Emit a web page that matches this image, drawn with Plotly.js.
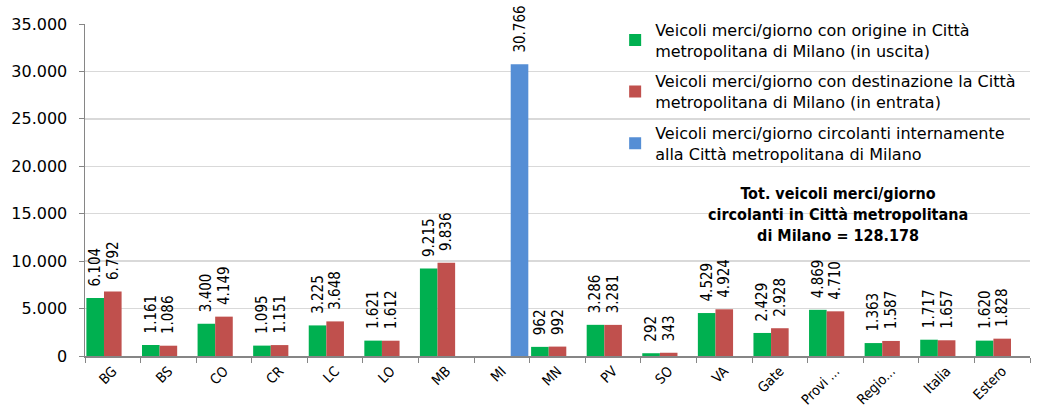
<!DOCTYPE html>
<html>
<head>
<meta charset="utf-8">
<script src="https://cdn.plot.ly/plotly-3.0.1.min.js"></script>
<style>html,body{margin:0;padding:0;background:#fff;}#chart{width:1042px;height:408px;}</style>
</head>
<body>
<div id="chart"></div>
<script>
const categories = ["BG","BS","CO","CR","LC","LO","MB","MI","MN","PV","SO","VA","Gate","Provi ...","Regio...","Italia","Estero"];
const uscita = [6104,1161,3400,1095,3225,1621,9215,null,962,3286,292,4529,2429,4869,1363,1717,1620];
const entrata = [6792,1086,4149,1151,3648,1612,9836,null,992,3281,343,4924,2928,4710,1587,1657,1828];
const interni = [null,null,null,null,null,null,null,30766,null,null,null,null,null,null,null,null,null];
const seriesNames = [
  "Veicoli merci/giorno con origine in Città<br>metropolitana di Milano (in uscita)",
  "Veicoli merci/giorno con destinazione la Città<br>metropolitana di Milano (in entrata)",
  "Veicoli merci/giorno circolanti internamente<br>alla Città metropolitana di Milano"
];
const totaleText = "<b>Tot. veicoli merci/giorno<br>circolanti in Città metropolitana<br>di Milano = 128.178</b>";
const yTicks = [0,5000,10000,15000,20000,25000,30000,35000];

const NARROW = '"Liberation Sans Narrow", "DejaVu Sans Condensed", "DejaVu Sans", sans-serif';
const WIDE = '"DejaVu Sans", sans-serif';
const colors = ["#00b050","#c0504d","#558ed5"];
const series = [uscita, entrata, interni];

const traces = series.map((vals, i) => ({
  type: 'bar',
  x: categories,
  y: vals,
  name: seriesNames[i],
  legendgroup: 'g' + i,
  marker: {color: colors[i], line: {width: 0}},
  texttemplate: '\u00a0\u00a0%{y:,}',
  textposition: 'outside',
  textangle: -90,
  constraintext: 'none',
  cliponaxis: false,
  textfont: {family: NARROW, size: 15, color: '#000'},
  outsidetextfont: {family: NARROW, size: 15, color: '#000'},
  hoverinfo: 'x+y'
}));

const layout = {
  width: 1042, height: 408,
  margin: {l: 85, r: 12, t: 24, b: 52},
  paper_bgcolor: '#fff', plot_bgcolor: '#fff',
  separators: ',.',
  barmode: 'group',
  bargap: 0.05,
  bargroupgap: 0,
  font: {family: NARROW, color: '#000'},
  showlegend: true,
  legend: {
    x: 0.561, y: 1.034, xanchor: 'left', yanchor: 'top',
    bgcolor: 'rgba(0,0,0,0)',
    font: {family: WIDE, size: 16, color: '#000'},
    tracegroupgap: 7,
    itemwidth: 30
  },
  xaxis: {
    type: 'category',
    tickangle: -45,
    tickfont: {family: NARROW, size: 14, color: '#000'},
    showline: true, linecolor: '#868686', linewidth: 1.5,
    ticks: 'outside', ticklen: 5, tickcolor: '#868686', tickson: 'boundaries',
    showgrid: false, zeroline: false, fixedrange: true
  },
  yaxis: {
    range: [0, 35000],
    tickvals: yTicks,
    tickformat: ',d',
    tickfont: {family: WIDE, size: 16, color: '#000'},
    showline: true, linecolor: '#868686', linewidth: 1.5,
    ticks: 'outside', ticklen: 5, tickcolor: '#868686',
    ticklabelstandoff: 8,
    showgrid: true, gridcolor: '#d9d9d9', gridwidth: 1.5,
    zeroline: false, fixedrange: true
  },
  annotations: [{
    text: totaleText,
    xref: 'paper', yref: 'paper',
    x: 0.797, y: 0.425, xanchor: 'center', yanchor: 'middle',
    showarrow: false, align: 'center',
    font: {family: NARROW, size: 16, color: '#000'}
  }]
};

Plotly.newPlot('chart', traces, layout, {displayModeBar: false, staticPlot: true});
</script>
</body>
</html>
